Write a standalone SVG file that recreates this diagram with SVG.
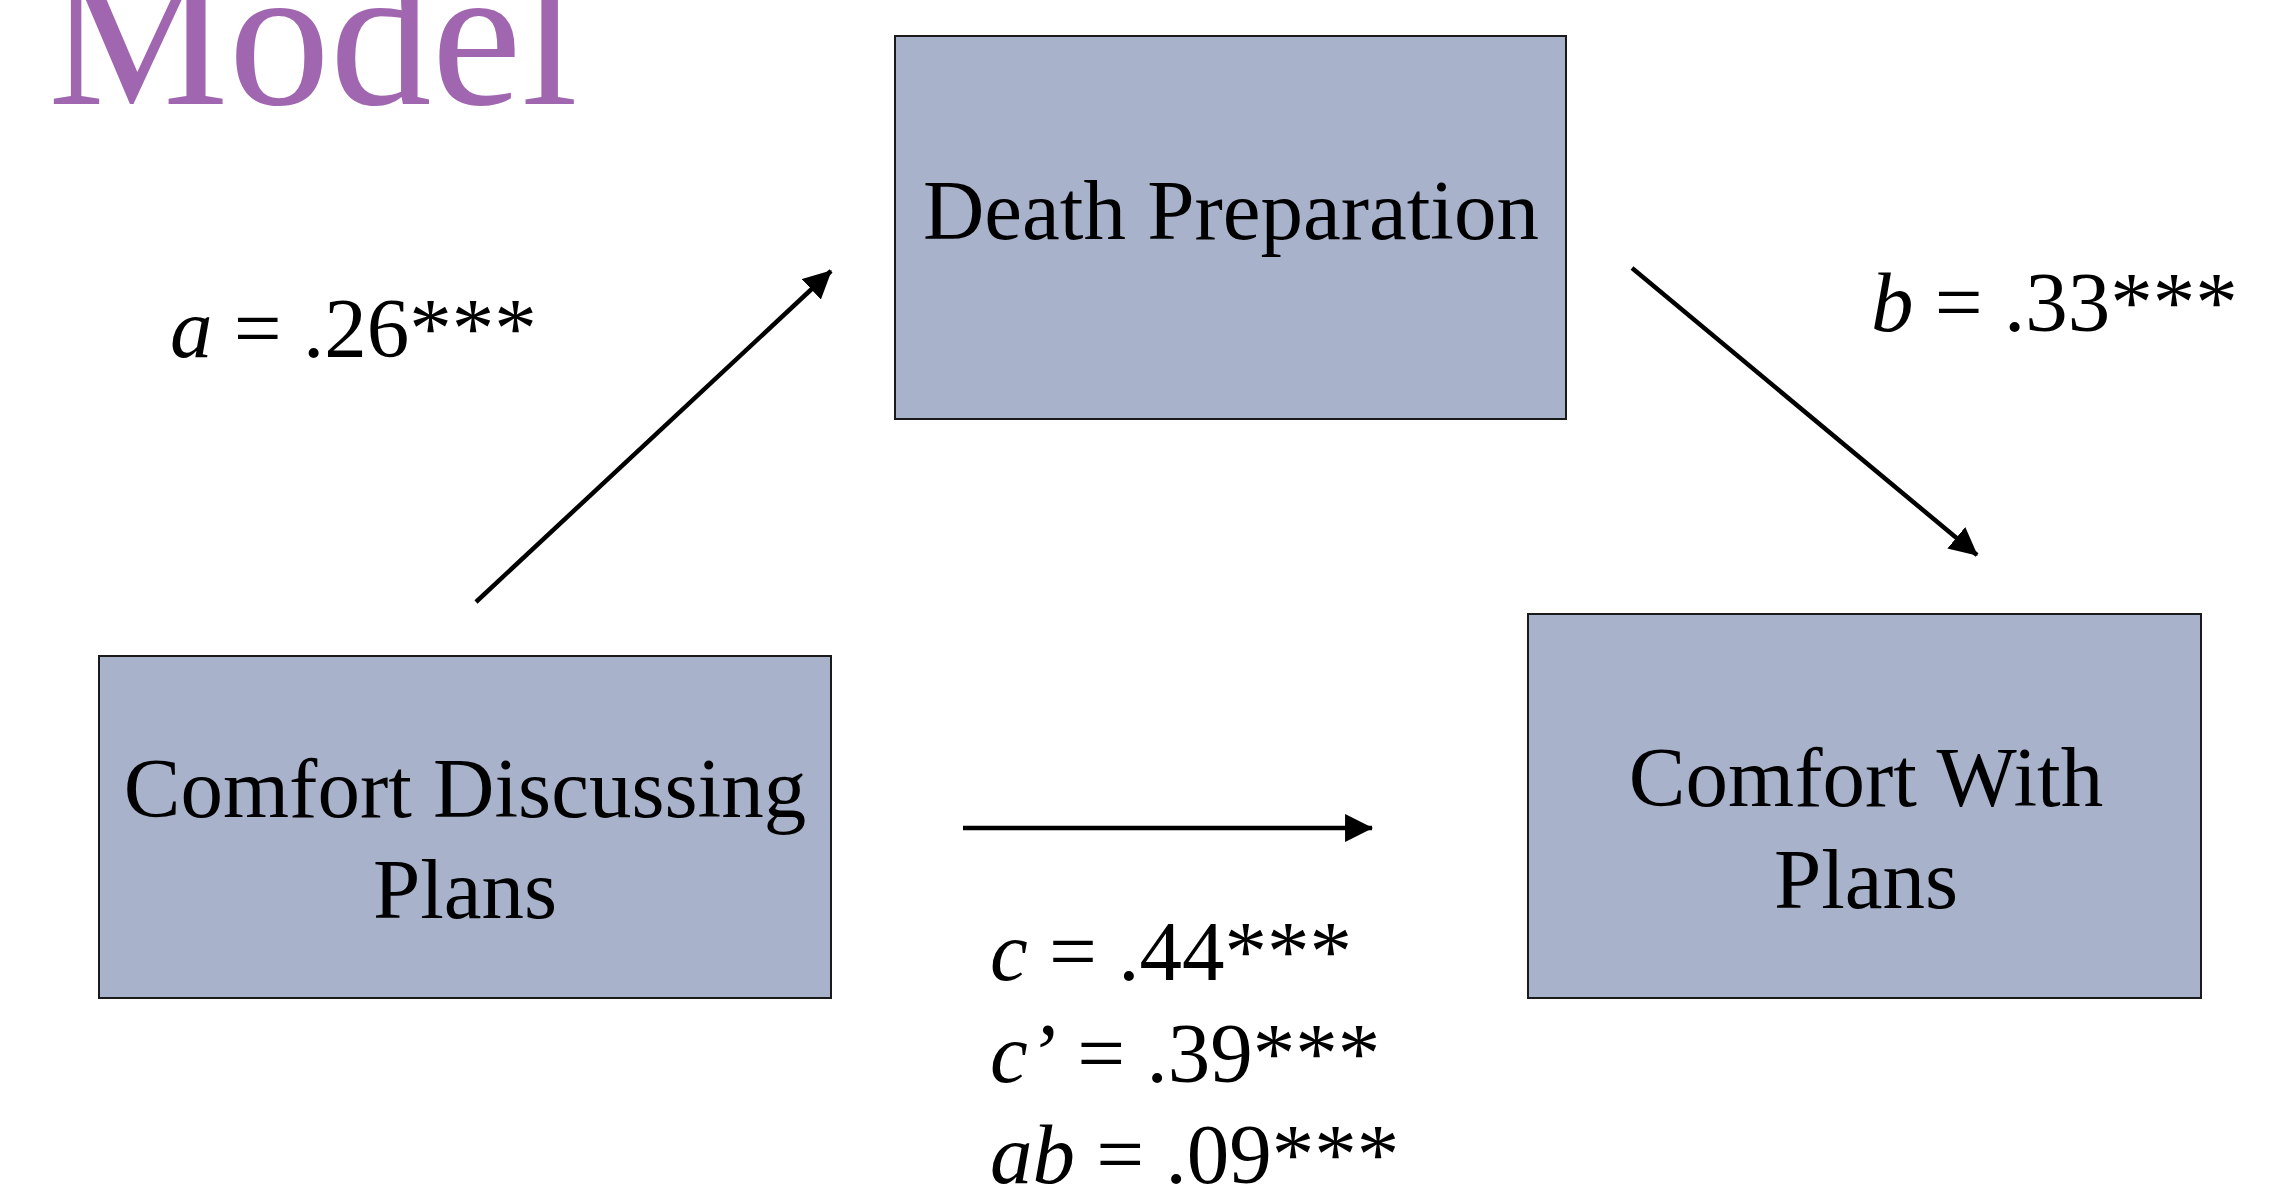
<svg xmlns="http://www.w3.org/2000/svg" width="2270" height="1191" viewBox="0 0 2270 1191">
<style>
.node rect{fill:#A8B2CA;stroke:#1a1a1a;stroke-width:2}
.lbl{font-family:"Liberation Serif","Times New Roman",serif;font-size:85px;fill:#000}
.nt{text-anchor:middle}
.edge{stroke:#000;stroke-width:4.5;fill:none;marker-end:url(#ah)}
.title{font-family:"Liberation Serif","Times New Roman",serif;font-size:203px;fill:#A066B0}
</style>
<defs>
<marker id="ah" markerUnits="userSpaceOnUse" markerWidth="28" markerHeight="28" viewBox="0 0 26 26" refX="25" refY="13" orient="auto">
<path d="M0,0 L26,13 L0,26 z" fill="#000"/>
</marker>
</defs>
<rect width="2270" height="1191" fill="#fff"/>
<text class="title" x="48" y="104">Model</text>
<g id="node-death-preparation" class="node">
<rect x="895" y="36" width="671" height="383"/>
<text class="lbl nt" x="1231" y="239">Death Preparation</text>
</g>
<g id="node-comfort-discussing" class="node">
<rect x="99" y="656" width="732" height="342"/>
<text class="lbl nt" x="465" y="817">Comfort Discussing</text>
<text class="lbl nt" x="465" y="918">Plans</text>
</g>
<g id="node-comfort-with" class="node">
<rect x="1528" y="614" width="673" height="384"/>
<text class="lbl nt" x="1866" y="806">Comfort With</text>
<text class="lbl nt" x="1866" y="908">Plans</text>
</g>
<g id="connectors">
<path class="edge" d="M476,602 L831,271"/>
<path class="edge" d="M1632,268 L1977,555"/>
<path class="edge" d="M963,828 L1372,828"/>
</g>
<g id="labels">
<text class="lbl" x="170" y="357"><tspan font-style="italic">a</tspan> = .26***</text>
<text class="lbl" x="1871" y="331"><tspan font-style="italic">b</tspan> = .33***</text>
<text class="lbl" x="990" y="980"><tspan font-style="italic">c</tspan> = .44***</text>
<text class="lbl" x="990" y="1082"><tspan font-style="italic">c’</tspan> = .39***</text>
<text class="lbl" x="990" y="1183"><tspan font-style="italic">ab</tspan> = .09***</text>
</g>
</svg>
